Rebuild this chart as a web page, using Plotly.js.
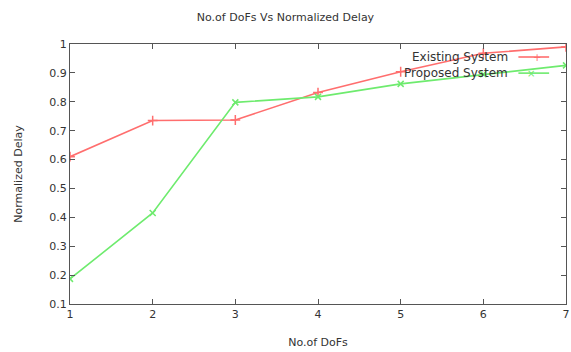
<!DOCTYPE html>
<html>
<head>
<meta charset="utf-8">
<script src="https://cdn.plot.ly/plotly-3.0.1.min.js"></script>
<style>html,body{margin:0;padding:0;background:#fff;}#chart{width:571px;height:352px;}</style>
</head>
<body>
<div id="chart"></div>
<script>
const dofs = [1, 2, 3, 4, 5, 6, 7];
const existingSystem = [0.61, 0.735, 0.737, 0.832, 0.904, 0.968, 0.99];
const proposedSystem = [0.187, 0.415, 0.798, 0.817, 0.862, 0.895, 0.926];
const seriesNames = ["Existing System", "Proposed System"];
const yTicks = [0.1, 0.2, 0.3, 0.4, 0.5, 0.6, 0.7, 0.8, 0.9, 1];

const redC = "rgb(255,110,110)";
const greenC = "rgb(110,235,110)";
const font = {family: "DejaVu Sans, sans-serif", size: 11, color: "#333"};

const traces = [
  {x: dofs, y: existingSystem, name: seriesNames[0], mode: "lines+markers",
   line: {color: redC, width: 1.6}, marker: {symbol: "cross-thin-open", size: 7, color: redC, line: {color: redC, width: 1.5}}},
  {x: dofs, y: proposedSystem, name: seriesNames[1], mode: "lines+markers",
   line: {color: greenC, width: 1.6}, marker: {symbol: "x-thin-open", size: 6, color: greenC, line: {color: greenC, width: 1.5}}}
];

// gnuplot-style key: text right aligned, sample on the right
const keyY = [0.95, 0.888];
const keyMarkX = [0.941, 0.929];
const colors = [redC, greenC];
const annotations = [];
const shapes = [];
seriesNames.forEach((n, i) => {
  annotations.push({xref: "paper", yref: "paper", x: 0.888, y: keyY[i], text: n, showarrow: false,
    xanchor: "right", yanchor: "middle", font: {family: font.family, size: 12, color: "#333"}});
  shapes.push({type: "line", xref: "paper", yref: "paper", x0: 0.904, x1: 0.966, y0: keyY[i], y1: keyY[i],
    line: {color: colors[i], width: 1.6}});
});
const keyMarks = ["+", "×"];
seriesNames.forEach((n, i) => {
  annotations.push({xref: "paper", yref: "paper", x: keyMarkX[i], y: keyY[i], text: keyMarks[i], showarrow: false,
    xanchor: "center", yanchor: "middle", font: {family: font.family, size: 10, color: colors[i]}});
});

const layout = {
  width: 571, height: 352,
  margin: {l: 70, r: 5, t: 44, b: 48},
  paper_bgcolor: "#fff", plot_bgcolor: "#fff",
  showlegend: false,
  title: {text: "No.of DoFs Vs Normalized Delay", font: {family: font.family, size: 11, color: "#333"}, x: 0.5, xanchor: "center", y: 0.95, yanchor: "middle"},
  xaxis: {range: [1, 7], tickvals: dofs, ticks: "inside", ticklen: 5, tickcolor: "#555", mirror: "ticks",
    showline: true, linecolor: "#555", linewidth: 1, showgrid: false, zeroline: false, tickfont: font,
    title: {text: "No.of DoFs", font: font, standoff: 18}},
  yaxis: {range: [0.1, 1], tickvals: yTicks, ticktext: yTicks.map(String), ticks: "inside", ticklen: 5, tickcolor: "#555", mirror: "ticks",
    showline: true, linecolor: "#555", linewidth: 1, showgrid: false, zeroline: false, tickfont: font,
    title: {text: "Normalized Delay", font: font, standoff: 24}},
  annotations: annotations,
  shapes: shapes
};
Plotly.newPlot("chart", traces, layout, {staticPlot: true});
</script>
</body>
</html>
